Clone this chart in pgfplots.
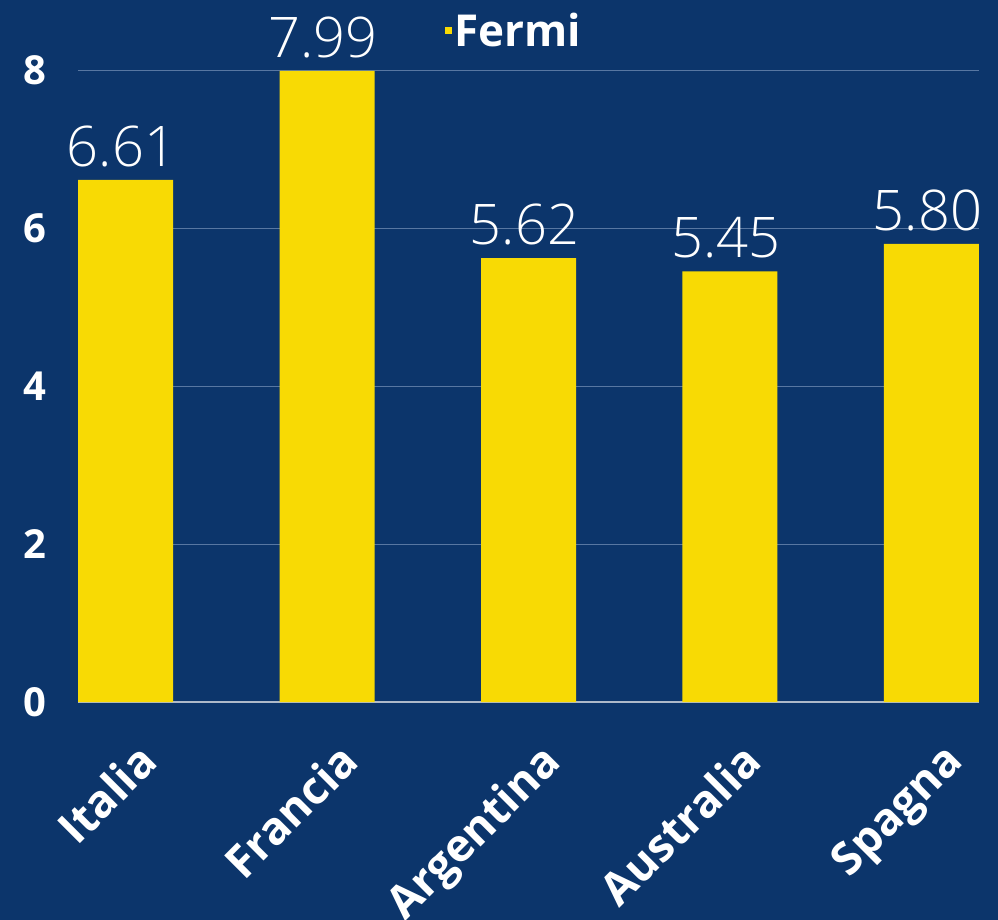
\documentclass[border=0pt]{standalone}
\usepackage{fontspec}
\setmainfont{Open Sans}
\newfontfamily\lightfont{Open Sans Light}
\usepackage{pgfplots}
\pgfplotsset{compat=1.18}
\definecolor{bg}{HTML}{0C356B}
\definecolor{barc}{HTML}{F8DA04}
\definecolor{gridc}{HTML}{5877A2}
\definecolor{basec}{HTML}{AEB9C9}

\begin{document}
\begin{tikzpicture}
  \fill[bg] (-78bp,-218bp) rectangle (920bp,702bp);
  \useasboundingbox (-78bp,-218bp) rectangle (920bp,702bp);
  \begin{axis}[
    at={(0,0)}, anchor=south west,
    scale only axis, width=901bp, height=632bp,
    ybar, bar width=95bp,
    xmin=-0.236, xmax=4.236, ymin=0, ymax=8,
    xtick={0,1,2,3,4},
    xticklabels={Italia,Francia,Argentina,Australia,Spagna},
    ytick={0,2,4,6,8},
    major tick length=0pt,
    axis x line*=bottom, axis y line*=left,
    y axis line style={draw=none},
    x axis line style={draw=basec, line width=1.2pt},
    ymajorgrids, grid style={draw=gridc, line width=1pt},
    clip=false,
    /pgf/number format/assume math mode=true,
    tick label style={text=white, font=\bfseries\fontsize{40bp}{48bp}\selectfont},
    yticklabel style={xshift=-28bp},
    xticklabel style={inner sep=0pt, xshift=10bp, yshift=-38bp, rotate=45, anchor=north east,
      font=\bfseries\fontsize{45bp}{52bp}\selectfont},
    nodes near coords={\pgfmathprintnumber[fixed,fixed zerofill,precision=2]{\pgfplotspointmeta}},
    every node near coord/.append style={text=white, inner sep=0pt, yshift=13bp, xshift=-4bp,
      font=\lightfont\fontsize{56bp}{62bp}\selectfont},
    legend style={at={(0.484,1.063)}, anchor=center, fill=none, draw=none,
      text=white, font=\bfseries\fontsize{44bp}{50bp}\selectfont},
    legend image code/.code={\fill[barc] (-9bp,-3.5bp) rectangle (-2bp,3.5bp);},
  ]
    \addplot[fill=barc, draw=none] coordinates {
      (0,6.61) (1,7.99) (2,5.62) (3,5.45) (4,5.80)
    };
    \addlegendentry{Fermi}
  \end{axis}
\end{tikzpicture}
\end{document}
